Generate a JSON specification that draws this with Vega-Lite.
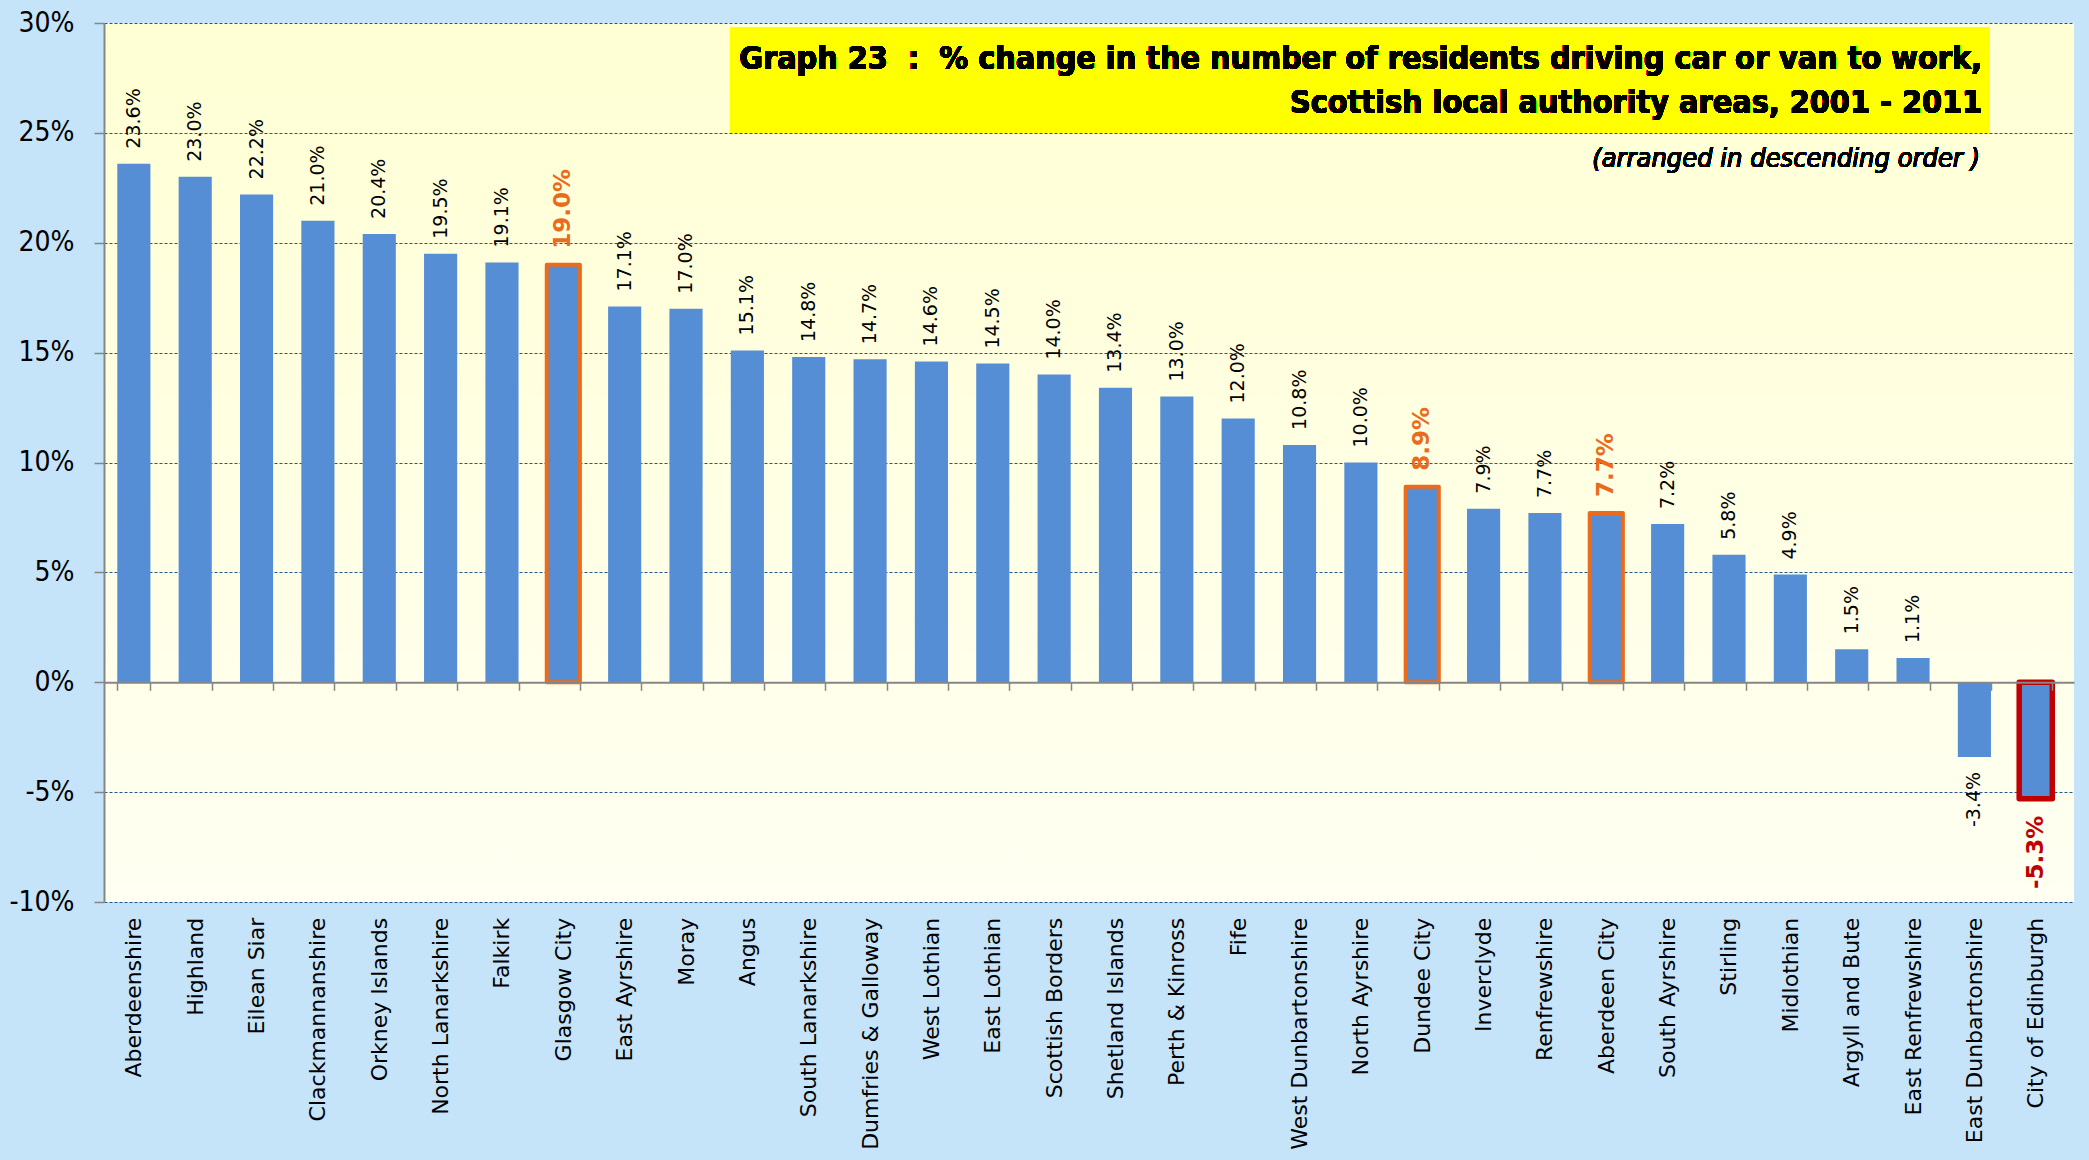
{
  "$schema": "https://vega.github.io/schema/vega-lite/v6.json",
  "width": 1970,
  "height": 879,
  "autosize": {"type": "none"},
  "padding": {"left": 104, "top": 23, "right": 15, "bottom": 258},
  "background": "#C5E3F9",
  "config": {
    "view": {"stroke": null, "fill": {"gradient": "linear", "x1": 0, "y1": 0, "x2": 0, "y2": 1, "stops": [{"offset": 0, "color": "#FFFFD4"}, {"offset": 1, "color": "#FFFFF2"}]}},
    "axis": {"labelColor": "#000000"},
    "locale": {"number": {"decimal": ".", "thousands": ",", "grouping": [3], "currency": ["$", ""], "minus": "-"}}
  },
  "data": {
    "values": [
      {"area": "Aberdeenshire", "value": 0.236, "hl": "none"},
      {"area": "Highland", "value": 0.230, "hl": "none"},
      {"area": "Eilean Siar", "value": 0.222, "hl": "none"},
      {"area": "Clackmannanshire", "value": 0.210, "hl": "none"},
      {"area": "Orkney Islands", "value": 0.204, "hl": "none"},
      {"area": "North Lanarkshire", "value": 0.195, "hl": "none"},
      {"area": "Falkirk", "value": 0.191, "hl": "none"},
      {"area": "Glasgow City", "value": 0.190, "hl": "orange"},
      {"area": "East Ayrshire", "value": 0.171, "hl": "none"},
      {"area": "Moray", "value": 0.170, "hl": "none"},
      {"area": "Angus", "value": 0.151, "hl": "none"},
      {"area": "South Lanarkshire", "value": 0.148, "hl": "none"},
      {"area": "Dumfries & Galloway", "value": 0.147, "hl": "none"},
      {"area": "West Lothian", "value": 0.146, "hl": "none"},
      {"area": "East Lothian", "value": 0.145, "hl": "none"},
      {"area": "Scottish Borders", "value": 0.140, "hl": "none"},
      {"area": "Shetland Islands", "value": 0.134, "hl": "none"},
      {"area": "Perth & Kinross", "value": 0.130, "hl": "none"},
      {"area": "Fife", "value": 0.120, "hl": "none"},
      {"area": "West Dunbartonshire", "value": 0.108, "hl": "none"},
      {"area": "North Ayrshire", "value": 0.100, "hl": "none"},
      {"area": "Dundee City", "value": 0.089, "hl": "orange"},
      {"area": "Inverclyde", "value": 0.079, "hl": "none"},
      {"area": "Renfrewshire", "value": 0.077, "hl": "none"},
      {"area": "Aberdeen City", "value": 0.077, "hl": "orange"},
      {"area": "South Ayrshire", "value": 0.072, "hl": "none"},
      {"area": "Stirling", "value": 0.058, "hl": "none"},
      {"area": "Midlothian", "value": 0.049, "hl": "none"},
      {"area": "Argyll and Bute", "value": 0.015, "hl": "none"},
      {"area": "East Renfrewshire", "value": 0.011, "hl": "none"},
      {"area": "East Dunbartonshire", "value": -0.034, "hl": "none"},
      {"area": "City of Edinburgh", "value": -0.053, "hl": "red"}
    ]
  },
  "encoding": {
    "x": {
      "field": "area", "type": "nominal", "sort": null,
      "scale": {
        "domain": ["Aberdeenshire", "Highland", "Eilean Siar", "Clackmannanshire", "Orkney Islands", "North Lanarkshire", "Falkirk", "Glasgow City", "East Ayrshire", "Moray", "Angus", "South Lanarkshire", "Dumfries & Galloway", "West Lothian", "East Lothian", "Scottish Borders", "Shetland Islands", "Perth & Kinross", "Fife", "West Dunbartonshire", "North Ayrshire", "Dundee City", "Inverclyde", "Renfrewshire", "Aberdeen City", "South Ayrshire", "Stirling", "Midlothian", "Argyll and Bute", "East Renfrewshire", "East Dunbartonshire", "City of Edinburgh"],
        "paddingInner": 0.46, "paddingOuter": 0.285, "align": 0.38
      },
      "axis": {
        "title": null, "orient": "bottom", "offset": -219.75,
        "domainColor": "#868686", "domainWidth": 2,
        "tickColor": "#868686", "tickWidth": 1.5, "tickSize": 8, "tickBand": "extent",
        "labelAngle": -90, "labelAlign": "right", "labelBaseline": "middle",
        "labelPadding": 227, "labelFont": "DejaVu Sans", "labelFontSize": 22, "labelLimit": 0,
        "labelColor": "#000000", "zindex": 2, "labelOverlap": false
      }
    },
    "y": {
      "field": "value", "type": "quantitative",
      "scale": {"domain": [-0.1, 0.3], "nice": false, "zero": false},
      "axis": {
        "title": null, "format": ".0%", "values": [-0.1, -0.05, 0, 0.05, 0.1, 0.15, 0.2, 0.25, 0.3],
        "grid": true, "gridColor": "#24578C", "gridDash": [3, 2], "gridWidth": 1.2,
        "domainColor": "#868686", "domainWidth": 2,
        "tickColor": "#868686", "tickSize": 10, "tickWidth": 1.5,
        "labelFont": "Liberation Sans Narrow, DejaVu Sans Condensed, sans-serif", "labelFontSize": 28,
        "labelPadding": 20, "labelColor": "#000000"
      }
    }
  },
  "layer": [
    {
      "mark": {"type": "rect", "fill": "#FFFF00"},
      "encoding": {
        "x": {"datum": "Angus", "bandPosition": 0},
        "x2": {"datum": "East Dunbartonshire", "bandPosition": 0.97},
        "y": {"datum": 0.298},
        "y2": {"datum": 0.25}
      }
    },
    {
      "mark": {"type": "text", "align": "right", "baseline": "middle", "font": "Liberation Sans Narrow, DejaVu Sans Condensed, sans-serif", "fontWeight": "bold", "fontSize": 32, "color": "#000000"},
      "encoding": {
        "x": {"datum": "East Dunbartonshire", "bandPosition": 0.73},
        "y": {"datum": 0.2836},
        "text": {"value": "Graph 23 \u00a0:\u00a0 % change in the number of residents driving car or van to work,"}
      }
    },
    {
      "mark": {"type": "text", "align": "right", "baseline": "middle", "font": "Liberation Sans Narrow, DejaVu Sans Condensed, sans-serif", "fontWeight": "bold", "fontSize": 32, "color": "#000000"},
      "encoding": {
        "x": {"datum": "East Dunbartonshire", "bandPosition": 0.73},
        "y": {"datum": 0.2635},
        "text": {"value": "Scottish local authority areas, 2001 - 2011"}
      }
    },
    {
      "mark": {"type": "text", "align": "right", "baseline": "middle", "font": "Liberation Sans Narrow, DejaVu Sans Condensed, sans-serif", "fontStyle": "italic", "fontSize": 27, "color": "#000000"},
      "encoding": {
        "x": {"datum": "East Dunbartonshire", "bandPosition": 0.67},
        "y": {"datum": 0.238},
        "text": {"value": "(arranged in descending order )"}
      }
    },
    {
      "mark": {"type": "bar", "fill": "#558ED5"},
      "encoding": {"y2": {"datum": 0}}
    },
    {
      "transform": [{"filter": "datum.hl != 'none'"}],
      "mark": {"type": "bar", "fill": "#558ED5", "strokeJoin": "round"},
      "encoding": {
        "y2": {"datum": 0},
        "stroke": {"field": "hl", "type": "nominal", "scale": {"domain": ["orange", "red"], "range": ["#EA6B1B", "#C00000"]}, "legend": null},
        "strokeWidth": {"field": "hl", "type": "ordinal", "scale": {"domain": ["orange", "red"], "range": [4, 5.5]}, "legend": null}
      }
    },
    {
      "transform": [{"filter": "datum.hl == 'none' && datum.value >= 0"}],
      "mark": {"type": "text", "angle": 270, "align": "left", "baseline": "middle", "dx": 15, "font": "DejaVu Sans", "fontSize": 19, "color": "#000000"},
      "encoding": {"text": {"field": "value", "type": "quantitative", "format": ".1%"}}
    },
    {
      "transform": [{"filter": "datum.hl == 'none' && datum.value < 0"}],
      "mark": {"type": "text", "angle": 270, "align": "right", "baseline": "middle", "dx": -15, "font": "DejaVu Sans", "fontSize": 19, "color": "#000000"},
      "encoding": {"text": {"field": "value", "type": "quantitative", "format": ".1%"}}
    },
    {
      "transform": [{"filter": "datum.hl == 'orange'"}],
      "mark": {"type": "text", "angle": 270, "align": "left", "baseline": "middle", "dx": 16, "font": "DejaVu Sans", "fontWeight": "bold", "fontSize": 23, "color": "#EA6B1B"},
      "encoding": {"text": {"field": "value", "type": "quantitative", "format": ".1%"}}
    },
    {
      "transform": [{"filter": "datum.hl == 'red'"}],
      "mark": {"type": "text", "angle": 270, "align": "right", "baseline": "middle", "dx": -17, "font": "DejaVu Sans", "fontWeight": "bold", "fontSize": 23, "color": "#C00000"},
      "encoding": {"text": {"field": "value", "type": "quantitative", "format": ".1%"}}
    }
  ]
}
